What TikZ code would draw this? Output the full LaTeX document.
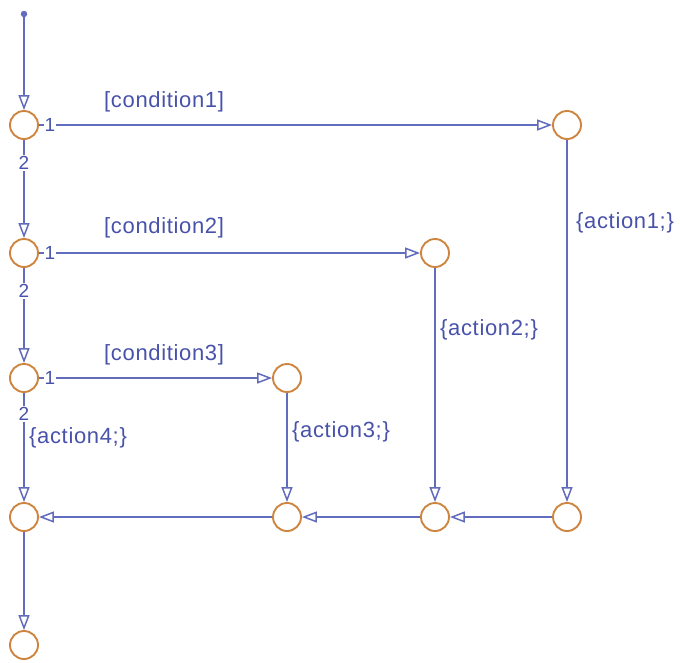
\documentclass[tikz,border=0pt]{standalone}
\usepackage{fontspec}
\setmainfont{Liberation Sans}[LetterSpace=3]
\usetikzlibrary{arrows.meta}
\definecolor{ln}{RGB}{98,108,188}
\definecolor{tx}{RGB}{72,82,170}
\definecolor{jn}{RGB}{205,133,63}
\begin{document}
\begin{tikzpicture}[x=1pt,y=-1pt,
  junc/.style={circle,draw=jn,line width=1.9pt,minimum size=28pt,inner sep=0pt},
  flow/.style={draw=ln,line width=1.8pt,-{Triangle[open,length=15pt,width=11pt,line width=1.5pt]}},
  lbl/.style={text=tx,font=\fontsize{22}{24}\selectfont,inner sep=0pt,anchor=west},
  num/.style={text=tx,font=\fontsize{19}{20}\selectfont,fill=white,inner sep=1pt}]
\useasboundingbox (0,0) rectangle (680,662);
\node[circle,fill=ln,inner sep=0pt,minimum size=6.5pt] (start) at (24,14) {};
\node[junc] (j1) at (24,125) {};
\node[junc] (j2) at (24,253) {};
\node[junc] (j3) at (24,378) {};
\node[junc] (j4) at (24,517) {};
\node[junc] (j5) at (24,645) {};
\node[junc] (r1) at (567,125) {};
\node[junc] (r2) at (435,253) {};
\node[junc] (r3) at (287,378) {};
\node[junc] (b1) at (567,517) {};
\node[junc] (b2) at (435,517) {};
\node[junc] (b3) at (287,517) {};
\draw[flow] (start) -- (j1);
\draw[flow] (j1) -- (r1);
\draw[flow] (j1) -- (j2);
\draw[flow] (j2) -- (r2);
\draw[flow] (j2) -- (j3);
\draw[flow] (j3) -- (r3);
\draw[flow] (j3) -- (j4);
\draw[flow] (r1) -- (b1);
\draw[flow] (r2) -- (b2);
\draw[flow] (r3) -- (b3);
\draw[flow] (b1) -- (b2);
\draw[flow] (b2) -- (b3);
\draw[flow] (b3) -- (j4);
\draw[flow] (j4) -- (j5);
\node[num] (n11) at (50,125) {1};
\node[num] (n12) at (24,163) {2};
\node[num] (n21) at (50,253) {1};
\node[num] (n22) at (24,291) {2};
\node[num] (n31) at (50,378) {1};
\node[num] (n32) at (24,414) {2};
\node[lbl] (c1) at (104,102) {[condition1]};
\node[lbl] (c2) at (104,228) {[condition2]};
\node[lbl] (c3) at (104,355) {[condition3]};
\node[lbl] (a1) at (576,223) {\{action1;\}};
\node[lbl] (a2) at (440,330) {\{action2;\}};
\node[lbl] (a3) at (292,432) {\{action3;\}};
\node[lbl] (a4) at (29,438) {\{action4;\}};
\end{tikzpicture}
\end{document}
